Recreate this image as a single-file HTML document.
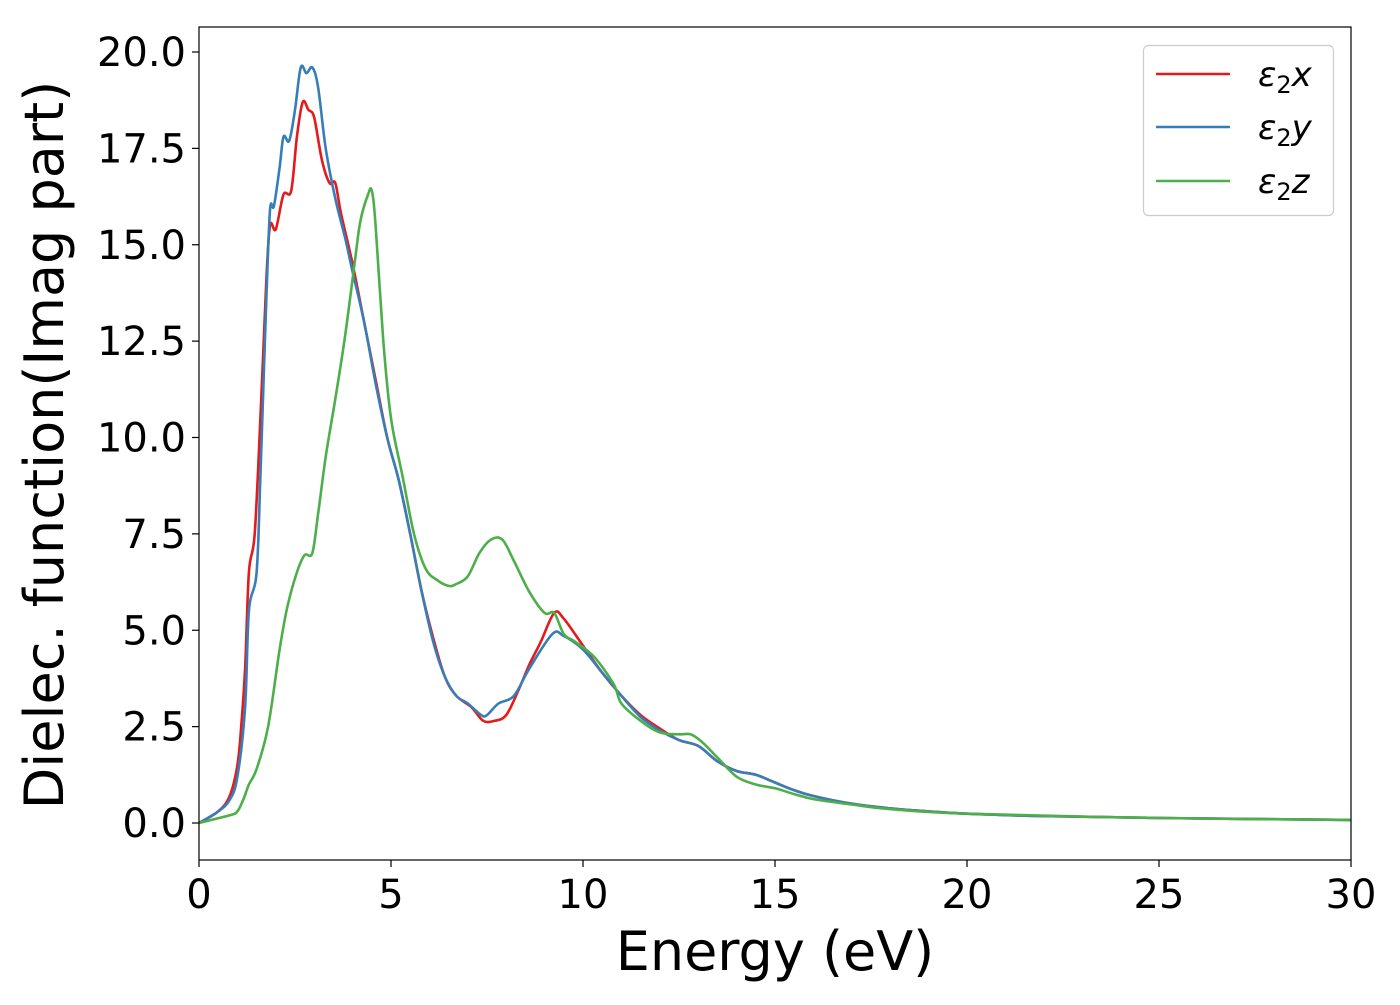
<!DOCTYPE html>
<html><head><meta charset="utf-8"><style>
html,body{margin:0;padding:0;background:#fff;}
svg text{font-family:"DejaVu Sans","Liberation Sans",sans-serif;fill:#000;}
</style></head><body>
<svg id="chart" width="1400" height="1000" viewBox="0 0 1400 1000" xmlns="http://www.w3.org/2000/svg">
<rect x="0" y="0" width="1400" height="1000" fill="#fff"/>
<g id="lines"></g>
<rect x="199" y="27" width="1152" height="833" fill="none" stroke="#000" stroke-width="1.2"/>
<g id="xticks"></g>
<g id="yticks"></g>
<text x="775" y="970" font-size="54" text-anchor="middle">Energy (eV)</text>
<text transform="translate(63,445) rotate(-90)" font-size="54" text-anchor="middle">Dielec. function(Imag part)</text>
<g>
<rect x="1143.5" y="45.5" width="190" height="170" rx="5" fill="#fff" fill-opacity="0.8" stroke="#ccc" stroke-width="1.2"/>
<line x1="1156" y1="74" x2="1230" y2="74" stroke="#e41a1c" stroke-width="2.6"/>
<line x1="1156" y1="127" x2="1230" y2="127" stroke="#377eb8" stroke-width="2.6"/>
<line x1="1156" y1="181" x2="1230" y2="181" stroke="#4daf4a" stroke-width="2.6"/>
<text x="1258" y="86" font-size="34" font-style="italic">ε<tspan font-style="normal" font-size="24" dy="7">2</tspan><tspan dy="-7">x</tspan></text>
<text x="1258" y="139" font-size="34" font-style="italic">ε<tspan font-style="normal" font-size="24" dy="7">2</tspan><tspan dy="-7">y</tspan></text>
<text x="1258" y="193" font-size="34" font-style="italic">ε<tspan font-style="normal" font-size="24" dy="7">2</tspan><tspan dy="-7">z</tspan></text>
</g>
</svg>
<script>
const xTicks=[0,5,10,15,20,25,30];
const yTicks=[0,2.5,5,7.5,10,12.5,15,17.5,20];
const eX=[0,0.5,0.8,1.0,1.1,1.2,1.3,1.45,1.6,1.75,1.85,2.0,2.2,2.4,2.55,2.7,2.85,3.0,3.2,3.4,3.55,3.7,4.0,4.3,4.6,4.9,5.2,5.5,5.8,6.1,6.4,6.7,7.1,7.4,7.7,8.0,8.3,8.6,8.9,9.25,9.5,10,10.5,11,11.5,12,12.5,13,13.5,14,14.5,15,15.5,16,17,18,19,20,22,25,30];
const vX=[0,0.3,0.7,1.5,2.5,4,6.5,7.5,10.5,14,15.5,15.4,16.3,16.4,17.8,18.7,18.5,18.3,17.2,16.6,16.6,15.8,14.5,13,11.5,10,8.9,7.5,6,4.8,3.8,3.3,3.0,2.65,2.65,2.8,3.4,4.1,4.7,5.45,5.3,4.6,3.9,3.3,2.8,2.45,2.15,2.0,1.6,1.35,1.25,1.05,0.85,0.7,0.5,0.38,0.3,0.24,0.18,0.13,0.08];
const eY=[0,0.5,0.8,1.0,1.2,1.3,1.5,1.6,1.75,1.85,1.95,2.1,2.2,2.35,2.5,2.65,2.8,2.95,3.1,3.3,3.55,3.8,4.0,4.3,4.6,4.9,5.2,5.5,5.8,6.1,6.4,6.7,7.0,7.35,7.5,7.8,8.2,8.6,9.2,9.5,10,10.5,11,11.5,12,12.5,13,13.5,14,14.5,15,15.5,16,17,18,19,20,22,25,30];
const vY=[0,0.3,0.6,1.2,3,5.5,6.5,9,13.5,15.9,16,17.0,17.8,17.7,18.5,19.6,19.45,19.6,19.1,17.5,16.2,15.2,14.3,13,11.4,10,8.9,7.5,6,4.7,3.8,3.3,3.1,2.8,2.8,3.1,3.3,4.0,4.9,4.85,4.5,3.9,3.3,2.75,2.4,2.15,2.0,1.6,1.35,1.25,1.05,0.85,0.7,0.5,0.38,0.3,0.24,0.18,0.13,0.08];
const eZ=[0,0.8,1.0,1.15,1.3,1.5,1.8,2.1,2.3,2.55,2.75,2.95,3.1,3.3,3.55,3.8,4.05,4.2,4.4,4.5,4.6,4.8,5.0,5.3,5.6,5.9,6.2,6.5,6.7,7.0,7.3,7.6,7.9,8.2,8.6,9.0,9.25,9.5,9.8,10.3,10.8,11.0,11.5,12,12.5,12.8,13.1,13.5,14,14.5,15,15.5,16,17,18,20,25,30];
const vZ=[0,0.2,0.3,0.6,1.0,1.4,2.5,4.5,5.6,6.5,6.95,7.0,8,9.5,11,12.6,14.5,15.6,16.3,16.4,15.5,12.5,10.5,9.0,7.5,6.6,6.3,6.15,6.2,6.4,7.0,7.35,7.35,6.8,6.0,5.45,5.45,4.9,4.7,4.3,3.6,3.1,2.65,2.35,2.3,2.3,2.1,1.7,1.2,1.0,0.9,0.75,0.62,0.48,0.36,0.24,0.13,0.08];
const sx=e=>199+e*38.4;
const sy=v=>823-v*38.55;
const NS="http://www.w3.org/2000/svg";
function smooth(xs,vs){
  const p=xs.map((e,i)=>[sx(e),sy(vs[i])]);
  let d="M"+p[0][0].toFixed(1)+","+p[0][1].toFixed(1);
  for(let i=0;i<p.length-1;i++){
    const p0=p[i-1]||p[i],p1=p[i],p2=p[i+1],p3=p[i+2]||p[i+1];
    const c1=[p1[0]+(p2[0]-p0[0])/6,p1[1]+(p2[1]-p0[1])/6];
    const c2=[p2[0]-(p3[0]-p1[0])/6,p2[1]-(p3[1]-p1[1])/6];
    d+="C"+c1.map(n=>n.toFixed(1))+" "+c2.map(n=>n.toFixed(1))+" "+p2.map(n=>n.toFixed(1));
  }
  return d;
}
const lines=document.getElementById('lines');
[[eX,vX,'#e41a1c','series-e2x'],[eY,vY,'#377eb8','series-e2y'],[eZ,vZ,'#4daf4a','series-e2z']].forEach(s=>{
  const el=document.createElementNS(NS,'path');
  el.setAttribute('d',smooth(s[0],s[1]));
  el.setAttribute('fill','none');el.setAttribute('stroke',s[2]);el.setAttribute('stroke-width','2.6');
  el.setAttribute('stroke-linejoin','round');
  
  
  lines.appendChild(el);
});
const xg=document.getElementById('xticks');
xTicks.forEach(t=>{
  const l=document.createElementNS(NS,'line');
  l.setAttribute('x1',sx(t));l.setAttribute('x2',sx(t));l.setAttribute('y1',860);l.setAttribute('y2',867);l.setAttribute('stroke','#000');l.setAttribute('stroke-width','1.2');
  
  
  xg.appendChild(l);
  const tx=document.createElementNS(NS,'text');
  tx.setAttribute('x',sx(t));tx.setAttribute('y',908);tx.setAttribute('font-size','40');tx.setAttribute('text-anchor','middle');
  tx.textContent=String(t);
  
  
  xg.appendChild(tx);
});
const yg=document.getElementById('yticks');
yTicks.forEach(t=>{
  const l=document.createElementNS(NS,'line');
  l.setAttribute('x1',192);l.setAttribute('x2',199);l.setAttribute('y1',sy(t));l.setAttribute('y2',sy(t));l.setAttribute('stroke','#000');l.setAttribute('stroke-width','1.2');
  
  
  yg.appendChild(l);
  const tx=document.createElementNS(NS,'text');
  tx.setAttribute('x',186);tx.setAttribute('y',sy(t)+14);tx.setAttribute('font-size','40');tx.setAttribute('text-anchor','end');
  tx.textContent=t.toFixed(1);
  
  
  yg.appendChild(tx);
});
</script>
</body></html>
